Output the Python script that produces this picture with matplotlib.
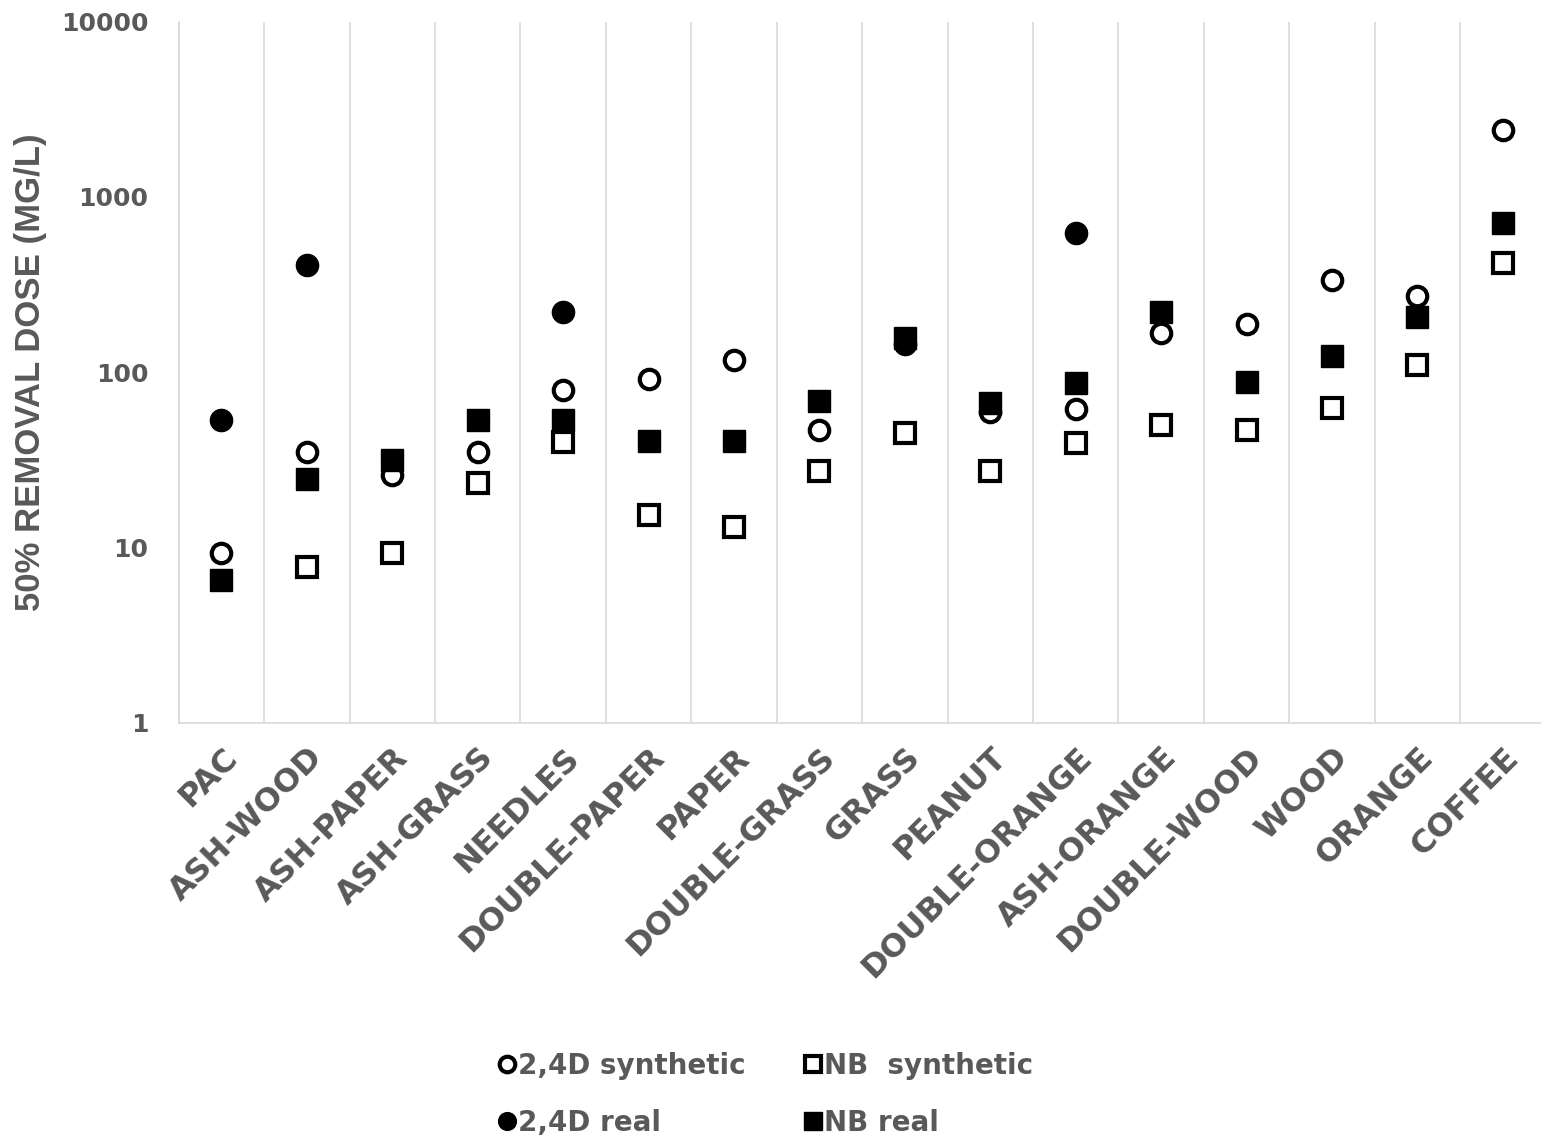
import numpy as np
import matplotlib.pyplot as plt
import matplotlib.transforms as mtransforms
from matplotlib.ticker import FixedLocator, NullFormatter

categories = ["PAC", "ASH-WOOD", "ASH-PAPER", "ASH-GRASS", "NEEDLES", "DOUBLE-PAPER",
              "PAPER", "DOUBLE-GRASS", "GRASS", "PEANUT", "DOUBLE-ORANGE", "ASH-ORANGE",
              "DOUBLE-WOOD", "WOOD", "ORANGE", "COFFEE"]

nan = np.nan
d24_synthetic = [9.3, 35, 26, 35, 79, 91, 118, 47, nan, 59.5, 62, 168, 187, 337, 273, 2420]
nb_synthetic = [nan, 7.7, 9.3, 23.4, 40, 15.4, 13.0, 27.1, 45, 27.1, 39.6, 50, 47, 62.7, 110, 422]
d24_real = [53.6, 410, nan, nan, 221, nan, nan, nan, 144, nan, 625, nan, nan, nan, nan, nan]
nb_real = [6.5, 24.7, 31.7, 53.6, 53.6, 40.7, 40.7, 68.8, 157, 67, 87, 219, 88, 124, 207, 713]

grey = "#595959"
plt.rcParams['font.family'] = ['DejaVu Sans']
plt.rcParams['font.weight'] = 'bold'

fig = plt.figure(figsize=(15.41, 11.38), dpi=100)
ax = fig.add_axes([0.116, 0.365, 0.887, 0.616])

x = np.arange(len(categories))
ms, mew = 14, 3
h1, = ax.plot(x, d24_synthetic, 'o', ms=ms, mfc='white', mec='black', mew=mew,
              label='2,4D synthetic', zorder=3)
h2, = ax.plot(x, nb_synthetic, 's', ms=ms, mfc='white', mec='black', mew=mew,
              label='NB  synthetic', zorder=3)
h3, = ax.plot(x, d24_real, 'o', ms=ms + 2, mfc='black', mec='black', mew=1,
              label='2,4D real', zorder=4)
h4, = ax.plot(x, nb_real, 's', ms=ms + 2, mfc='black', mec='black', mew=1,
              label='NB real', zorder=4)

ax.set_yscale('log')
ax.set_ylim(1, 10000)
ax.set_yticks([1, 10, 100, 1000, 10000])
ax.set_yticklabels(['1', '10', '100', '1000', '10000'])
ax.yaxis.set_minor_locator(FixedLocator([]))
ax.set_xlim(-0.5, len(categories) - 0.5)
ax.set_xticks(x)
ax.set_xticklabels(categories, rotation=45, ha='right', rotation_mode='anchor',
                   fontsize=23, color=grey, fontweight='bold')
# nudge rotated labels a little to the left
shift = mtransforms.ScaledTranslation(-8 / 100, 0, fig.dpi_scale_trans)
for lbl in ax.get_xticklabels():
    lbl.set_transform(lbl.get_transform() + shift)
ax.xaxis.set_minor_locator(FixedLocator(np.arange(-0.5, len(categories), 1.0)))
ax.xaxis.set_minor_formatter(NullFormatter())
ax.grid(True, which='minor', axis='x', color='#d9d9d9', lw=1.2)
ax.tick_params(axis='both', which='both', length=0)
ax.tick_params(axis='y', labelsize=18, labelcolor=grey, pad=22)
ax.tick_params(axis='x', pad=14)
for lbl in ax.get_yticklabels():
    lbl.set_fontweight('bold')

for s in ['top', 'right']:
    ax.spines[s].set_visible(False)
for s in ['left', 'bottom']:
    ax.spines[s].set_color('#d9d9d9')
    ax.spines[s].set_linewidth(1.2)

ax.set_ylabel("50% REMOVAL DOSE (MG/L)", fontsize=25, color=grey, labelpad=10,
              fontweight='bold', family='Liberation Sans')

fig.legend(handles=[h1, h3, h2, h4], ncol=2, loc='upper left',
           bbox_to_anchor=(0.308, 0.0975), frameon=False,
           prop={'size': 20, 'weight': 'bold'},
           labelcolor=grey, handlelength=0.5, handletextpad=0.15,
           columnspacing=2.2, labelspacing=1.04, markerscale=0.8)

fig.savefig("out.png", dpi=100)
